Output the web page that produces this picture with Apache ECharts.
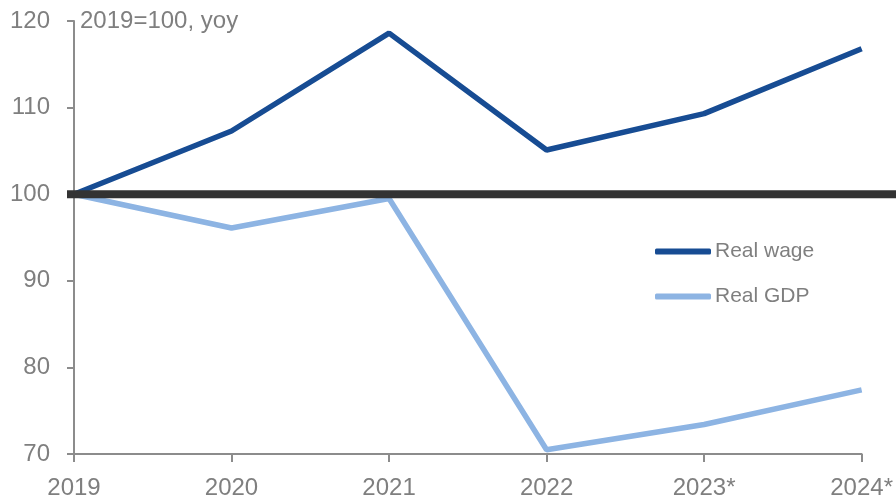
<!DOCTYPE html>
<html>
<head>
<meta charset="utf-8">
<script src="https://cdn.jsdelivr.net/npm/echarts@6/dist/echarts.min.js"></script>
<style>
  html, body { margin: 0; padding: 0; background: #fff; }
  #chart { width: 896px; height: 501px; }
</style>
</head>
<body>
<div id="chart"></div>
<script>
// Index levels, 2019 = 100
const years = ['2019', '2020', '2021', '2022', '2023*', '2024*'];
const realWage = [100, 107.3, 118.6, 105.1, 109.3, 116.8];
const realGDP = [100, 96.1, 99.5, 70.5, 73.4, 77.4];
const baseLevel = [[0, 100], [1, 100]];
const yTicks = { min: 70, max: 120, interval: 10 };

const FONT = 'Liberation Sans';
const GREY = '#7F7F7F';
const AXIS = '#8C8C8C';

const chart = echarts.init(document.getElementById('chart'), null, { renderer: 'canvas' });

chart.setOption({
  animation: false,
  backgroundColor: '#ffffff',
  textStyle: { fontFamily: FONT },
  title: {
    text: '2019=100, yoy',
    left: 75,
    top: 4,
    textStyle: { fontFamily: FONT, fontSize: 24, fontWeight: 'normal', color: GREY }
  },
  legend: {
    orient: 'vertical',
    left: 650,
    top: 236,
    itemWidth: 56,
    itemHeight: 6,
    itemGap: 24,
    icon: 'roundRect',
    textStyle: { fontFamily: FONT, fontSize: 21, color: GREY, padding: [0, 0, 0, -1] },
    data: ['Real wage', 'Real GDP']
  },
  grid: [
    { left: 74, right: 32, top: 21, bottom: 47, containLabel: false },
    { left: 67, right: 0, top: 21, bottom: 47, containLabel: false }
  ],
  xAxis: [
    {
      type: 'category',
      gridIndex: 0,
      data: years,
      boundaryGap: false,
      axisLine: { lineStyle: { color: AXIS, width: 2 } },
      axisTick: { show: true, length: 8, lineStyle: { color: AXIS, width: 2 } },
      axisLabel: { fontFamily: FONT, fontSize: 24, color: GREY, margin: 22 },
      splitLine: { show: false }
    },
    {
      type: 'value',
      gridIndex: 1,
      min: 0,
      max: 1,
      show: false
    }
  ],
  yAxis: [
    {
      type: 'value',
      gridIndex: 0,
      min: yTicks.min,
      max: yTicks.max,
      interval: yTicks.interval,
      axisLine: { show: true, lineStyle: { color: AXIS, width: 2 } },
      axisTick: { show: true, length: 7, lineStyle: { color: AXIS, width: 2 } },
      axisLabel: { fontFamily: FONT, fontSize: 24, color: GREY, margin: 24 },
      splitLine: { show: false }
    },
    {
      type: 'value',
      gridIndex: 1,
      min: yTicks.min,
      max: yTicks.max,
      show: false
    }
  ],
  series: [
    {
      name: 'Real wage',
      type: 'line',
      xAxisIndex: 0,
      yAxisIndex: 0,
      data: realWage,
      symbol: 'none',
      color: '#174C93',
      lineStyle: { color: '#174C93', width: 5.5 },
      z: 3
    },
    {
      name: 'Real GDP',
      type: 'line',
      xAxisIndex: 0,
      yAxisIndex: 0,
      data: realGDP,
      symbol: 'none',
      color: '#8DB4E3',
      lineStyle: { color: '#8DB4E3', width: 5.5 },
      z: 2
    },
    {
      name: 'base',
      type: 'line',
      xAxisIndex: 1,
      yAxisIndex: 1,
      data: baseLevel,
      symbol: 'none',
      lineStyle: { color: '#333333', width: 8, cap: 'butt' },
      z: 5,
      silent: true
    }
  ]
});
</script>
</body>
</html>
